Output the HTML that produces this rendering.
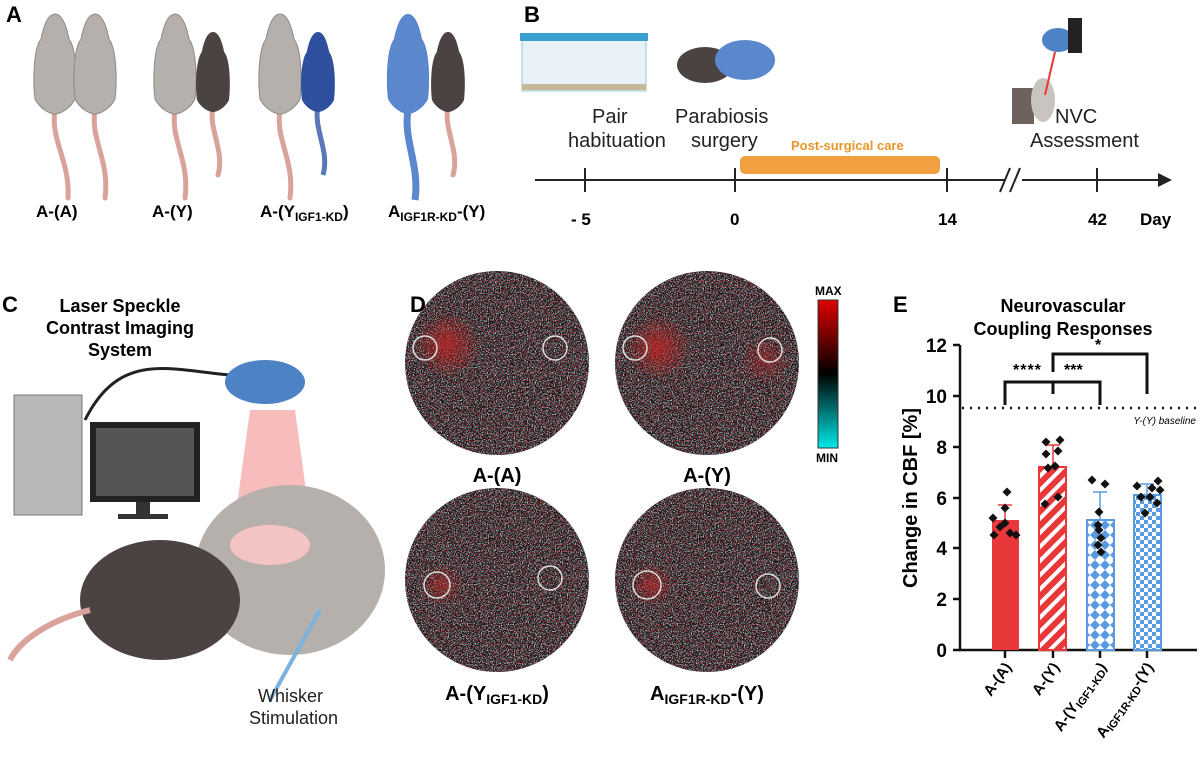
<!DOCTYPE html>
<html><head><meta charset="utf-8"><style>
body{margin:0;background:#fff;}
svg{display:block;font-family:"Liberation Sans",Arial,sans-serif;}
</style></head><body>
<svg width="1200" height="759" viewBox="0 0 1200 759" xmlns="http://www.w3.org/2000/svg">
<defs>
<path id="mb" d="M0,0 C-8,0 -12,15 -14,25 C-22,35 -22,70 -20,85 C-15,95 -5,100 0,100 C5,100 15,95 20,85 C22,70 22,35 14,25 C12,15 8,0 0,0Z"/>
<path id="dm" d="M0,-4.5 L4.5,0 0,4.5 -4.5,0Z"/>
<filter id="nr" x="0" y="0" width="100%" height="100%">
<feTurbulence type="fractalNoise" baseFrequency="0.85" numOctaves="1" seed="2"/>
<feColorMatrix type="matrix" values="0 0 0 0 0.8  0 0 0 0 0.08  0 0 0 0 0.1  5 0 0 0 -2.5"/>
</filter>
<filter id="nc" x="0" y="0" width="100%" height="100%">
<feTurbulence type="fractalNoise" baseFrequency="0.85" numOctaves="1" seed="9"/>
<feColorMatrix type="matrix" values="0 0 0 0 0.25  0 0 0 0 0.8  0 0 0 0 0.8  5 0 0 0 -2.6"/>
</filter>
<radialGradient id="rb"><stop offset="0" stop-color="#c02020" stop-opacity="0.8"/><stop offset="1" stop-color="#c02020" stop-opacity="0"/></radialGradient>
<clipPath id="cc"><circle cx="92" cy="92" r="92"/></clipPath>
<g id="disc" clip-path="url(#cc)">
<rect width="184" height="184" fill="#1c1517"/>
<rect width="184" height="184" filter="url(#nr)"/>
<rect width="184" height="184" filter="url(#nc)"/>
</g>
<pattern id="stripe" width="10" height="10" patternUnits="userSpaceOnUse" patternTransform="rotate(45)"><rect width="10" height="10" fill="#e8383a"/><rect width="4" height="10" fill="#fff"/></pattern>
<pattern id="diam" width="10" height="10" patternUnits="userSpaceOnUse"><rect width="10" height="10" fill="#fff"/><path d="M5,0 L10,5 5,10 0,5Z" fill="#5a9ae0"/></pattern>
<pattern id="chk" width="8" height="8" patternUnits="userSpaceOnUse"><rect width="8" height="8" fill="#fff"/><rect width="4" height="4" fill="#5a9ae0"/><rect x="4" y="4" width="4" height="4" fill="#5a9ae0"/></pattern>
<linearGradient id="cb" x1="0" y1="0" x2="0" y2="1"><stop offset="0" stop-color="#e00000"/><stop offset="0.5" stop-color="#000"/><stop offset="1" stop-color="#00e8e8"/></linearGradient>
</defs>

<!-- Panel A -->
<text x="6" y="22" font-size="22" font-weight="bold">A</text>
<g fill="none" stroke="#d9a29b" stroke-width="5" stroke-linecap="round">
<path d="M55,110 C50,140 70,160 68,198"/><path d="M95,110 C90,140 110,160 105,198"/>
<path d="M175,110 C170,140 190,160 185,198"/><path d="M213,105 C208,130 225,150 218,175"/>
<path d="M280,110 C275,140 295,160 290,198"/>
<path d="M448,105 C443,130 460,150 453,175"/>
</g>
<path d="M318,105 C313,130 330,150 323,175" stroke="#5878b8" stroke-width="5" fill="none"/>
<path d="M408,110 C403,140 420,165 415,200" stroke="#5b87cc" stroke-width="7" fill="none"/>
<g fill="#b5b0ab" stroke="#8e8984">
<use href="#mb" transform="translate(55,14)"/><use href="#mb" transform="translate(95,14)"/>
<use href="#mb" transform="translate(175,14)"/><use href="#mb" transform="translate(280,14)"/>
</g>
<g fill="#4a4341"><use href="#mb" transform="translate(213,32) scale(0.8)"/><use href="#mb" transform="translate(448,32) scale(0.8)"/></g>
<use href="#mb" transform="translate(318,32) scale(0.8)" fill="#2e4f9e"/>
<use href="#mb" transform="translate(408,14)" fill="#5b87cc"/>
<g font-size="17" font-weight="bold">
<text x="36" y="217">A-(A)</text><text x="152" y="217">A-(Y)</text>
<text x="260" y="217">A-(Y<tspan font-size="12" dy="4">IGF1-KD</tspan><tspan dy="-4">)</tspan></text>
<text x="388" y="217">A<tspan font-size="12" dy="4">IGF1R-KD</tspan><tspan dy="-4">-(Y)</tspan></text>
</g>

<!-- Panel B -->
<text x="524" y="22" font-size="22" font-weight="bold">B</text>
<rect x="522" y="36" width="124" height="55" fill="#e8f1f5" stroke="#9cc" />
<rect x="520" y="33" width="128" height="8" fill="#3aa0d0"/>
<rect x="522" y="84" width="124" height="6" fill="#c8b89a"/>
<ellipse cx="705" cy="65" rx="28" ry="18" fill="#4a4341"/><ellipse cx="745" cy="60" rx="30" ry="20" fill="#5b87cc"/>
<g font-size="20" fill="#222">
<text x="592" y="123">Pair</text><text x="568" y="147">habituation</text>
<text x="675" y="123">Parabiosis</text><text x="691" y="147">surgery</text>
<text x="1055" y="123">NVC</text><text x="1030" y="147">Assessment</text>
</g>
<rect x="1012" y="88" width="22" height="36" fill="#6d625d"/>
<ellipse cx="1043" cy="100" rx="12" ry="22" fill="#c9c4bf"/>
<ellipse cx="1058" cy="40" rx="16" ry="12" fill="#4d82c4"/><rect x="1068" y="18" width="14" height="35" fill="#222"/>
<line x1="1055" y1="52" x2="1045" y2="95" stroke="#e33" stroke-width="2"/>
<rect x="740" y="156" width="200" height="18" rx="5" fill="#f0a040"/>
<text x="791" y="150" font-size="13" font-weight="bold" fill="#e8962a">Post-surgical care</text>
<g stroke="#222" stroke-width="2">
<line x1="535" y1="180" x2="1005" y2="180"/><line x1="1022" y1="180" x2="1160" y2="180"/>
<line x1="585" y1="168" x2="585" y2="192"/><line x1="735" y1="168" x2="735" y2="192"/>
<line x1="947" y1="168" x2="947" y2="192"/><line x1="1097" y1="168" x2="1097" y2="192"/>
<line x1="1000" y1="192" x2="1010" y2="168"/><line x1="1010" y1="192" x2="1020" y2="168"/>
</g>
<path d="M1158,173 L1172,180 1158,187Z" fill="#222"/>
<g font-size="17" font-weight="bold">
<text x="571" y="225">- 5</text><text x="730" y="225">0</text><text x="938" y="225">14</text><text x="1088" y="225">42</text><text x="1140" y="225">Day</text>
</g>

<!-- Panel C -->
<text x="2" y="312" font-size="22" font-weight="bold">C</text>
<g font-size="18" font-weight="bold" text-anchor="middle">
<text x="120" y="312">Laser Speckle</text><text x="120" y="334">Contrast Imaging</text><text x="120" y="356">System</text>
</g>
<rect x="14" y="395" width="68" height="120" fill="#b8b8b8" stroke="#777"/>
<rect x="90" y="422" width="110" height="80" fill="#222"/><rect x="96" y="428" width="98" height="68" fill="#555"/>
<rect x="136" y="502" width="14" height="14" fill="#333"/><rect x="118" y="514" width="50" height="5" fill="#333"/>
<path d="M85,420 C120,350 170,370 230,375" stroke="#222" stroke-width="3" fill="none"/>
<ellipse cx="265" cy="382" rx="40" ry="22" fill="#4d82c4"/>
<path d="M250,410 L295,410 310,520 235,520Z" fill="#f4a0a0" opacity="0.7"/>
<ellipse cx="290" cy="570" rx="95" ry="85" fill="#b5b0ab"/>
<ellipse cx="270" cy="545" rx="40" ry="20" fill="#f4c4c4"/>
<ellipse cx="160" cy="600" rx="80" ry="60" fill="#4a4341"/>
<path d="M90,610 C50,620 20,640 10,660" stroke="#d9a29b" stroke-width="6" fill="none"/>
<line x1="270" y1="700" x2="320" y2="610" stroke="#7bb3e0" stroke-width="4"/>
<text x="258" y="702" font-size="18" fill="#222">Whisker</text><text x="249" y="724" font-size="18" fill="#222">Stimulation</text>

<!-- Panel D -->
<use href="#disc" x="405" y="271"/>
<use href="#disc" x="615" y="271"/>
<use href="#disc" x="405" y="488"/>
<use href="#disc" x="615" y="488"/>
<circle cx="447" cy="345" r="33" fill="url(#rb)"/>
<circle cx="658" cy="348" r="33" fill="url(#rb)"/>
<circle cx="765" cy="360" r="25" fill="url(#rb)" opacity="0.6"/>
<circle cx="442" cy="585" r="22" fill="url(#rb)" opacity="0.7"/>
<circle cx="652" cy="585" r="22" fill="url(#rb)" opacity="0.8"/>
<text x="410" y="312" font-size="22" font-weight="bold">D</text>
<g fill="none" stroke="#ddd" stroke-width="1.5">
<circle cx="425" cy="348" r="12"/><circle cx="555" cy="348" r="12"/>
<circle cx="635" cy="348" r="12"/><circle cx="770" cy="350" r="12"/>
<circle cx="437" cy="585" r="13"/><circle cx="550" cy="578" r="12"/>
<circle cx="647" cy="585" r="14"/><circle cx="768" cy="586" r="12"/>
</g>
<g font-size="20" font-weight="bold" text-anchor="middle">
<text x="497" y="482">A-(A)</text><text x="707" y="482">A-(Y)</text>
<text x="497" y="700">A-(Y<tspan font-size="14" dy="4">IGF1-KD</tspan><tspan dy="-4">)</tspan></text>
<text x="707" y="700">A<tspan font-size="14" dy="4">IGF1R-KD</tspan><tspan dy="-4">-(Y)</tspan></text>
</g>
<text x="815" y="295" font-size="12" font-weight="bold">MAX</text>
<rect x="818" y="300" width="20" height="148" fill="url(#cb)" stroke="#333"/>
<text x="816" y="462" font-size="12" font-weight="bold">MIN</text>

<!-- Panel E -->
<text x="893" y="312" font-size="22" font-weight="bold">E</text>
<g font-size="18" font-weight="bold" text-anchor="middle">
<text x="1063" y="312">Neurovascular</text><text x="1063" y="335">Coupling Responses</text>
</g>
<text transform="translate(917,498) rotate(-90)" font-size="20" font-weight="bold" text-anchor="middle">Change in CBF [%]</text>
<g stroke="#111" stroke-width="2.5">
<line x1="960" y1="345" x2="960" y2="651"/><line x1="959" y1="650" x2="1197" y2="650"/>
<line x1="953" y1="345" x2="960" y2="345"/><line x1="953" y1="396" x2="960" y2="396"/><line x1="953" y1="447" x2="960" y2="447"/><line x1="953" y1="498" x2="960" y2="498"/><line x1="953" y1="548" x2="960" y2="548"/><line x1="953" y1="599" x2="960" y2="599"/><line x1="953" y1="650" x2="960" y2="650"/>
<line x1="1005" y1="650" x2="1005" y2="658"/><line x1="1053" y1="650" x2="1053" y2="658"/><line x1="1100" y1="650" x2="1100" y2="658"/><line x1="1147" y1="650" x2="1147" y2="658"/>
</g>
<g font-size="19" font-weight="bold" text-anchor="end">
<text x="947" y="352">12</text><text x="947" y="403">10</text><text x="947" y="454">8</text><text x="947" y="505">6</text><text x="947" y="555">4</text><text x="947" y="606">2</text><text x="947" y="657">0</text>
</g>
<line x1="962" y1="408" x2="1197" y2="408" stroke="#111" stroke-width="2.5" stroke-dasharray="2,6"/>
<text x="1196" y="424" font-size="10" font-style="italic" text-anchor="end">Y-(Y) baseline</text>
<rect x="992" y="520" width="27" height="130" fill="#e8383a"/>
<rect x="1039" y="467" width="27" height="183" fill="url(#stripe)" stroke="#e8383a" stroke-width="2"/>
<rect x="1087" y="520" width="27" height="130" fill="url(#diam)" stroke="#5a9ae0" stroke-width="2"/>
<rect x="1134" y="495" width="27" height="155" fill="url(#chk)" stroke="#5a9ae0" stroke-width="2"/>
<g stroke="#e8383a" stroke-width="1.5"><line x1="1005" y1="520" x2="1005" y2="505"/><line x1="998" y1="505" x2="1012" y2="505"/><line x1="1053" y1="467" x2="1053" y2="445"/><line x1="1046" y1="445" x2="1060" y2="445"/></g>
<g stroke="#5a9ae0" stroke-width="1.5"><line x1="1100" y1="520" x2="1100" y2="492"/><line x1="1093" y1="492" x2="1107" y2="492"/><line x1="1147" y1="495" x2="1147" y2="484"/><line x1="1140" y1="484" x2="1154" y2="484"/></g>
<g fill="#111">
<use href="#dm" x="1007" y="492"/><use href="#dm" x="1005" y="508"/><use href="#dm" x="993" y="518"/><use href="#dm" x="1000" y="527"/><use href="#dm" x="1005" y="523"/><use href="#dm" x="994" y="535"/><use href="#dm" x="1010" y="533"/><use href="#dm" x="1016" y="535"/>
<use href="#dm" x="1046" y="442"/><use href="#dm" x="1060" y="440"/><use href="#dm" x="1046" y="454"/><use href="#dm" x="1058" y="451"/><use href="#dm" x="1055" y="466"/><use href="#dm" x="1048" y="468"/><use href="#dm" x="1058" y="497"/><use href="#dm" x="1045" y="504"/>
<use href="#dm" x="1092" y="480"/><use href="#dm" x="1105" y="484"/><use href="#dm" x="1099" y="512"/><use href="#dm" x="1098" y="525"/><use href="#dm" x="1101" y="538"/><use href="#dm" x="1098" y="545"/><use href="#dm" x="1101" y="552"/><use href="#dm" x="1099" y="530"/>
<use href="#dm" x="1137" y="486"/><use href="#dm" x="1152" y="488"/><use href="#dm" x="1158" y="481"/><use href="#dm" x="1160" y="490"/><use href="#dm" x="1141" y="497"/><use href="#dm" x="1150" y="497"/><use href="#dm" x="1157" y="503"/><use href="#dm" x="1145" y="513"/>
</g>
<g stroke="#111" stroke-width="3" fill="none">
<path d="M1005,405 V382 H1100 V405"/><line x1="1053" y1="382" x2="1053" y2="394"/>
<path d="M1053,372 V354 H1147 V394"/>
</g>
<g font-size="16" font-weight="bold">
<text x="1013" y="375" letter-spacing="1">****</text><text x="1064" y="375">***</text><text x="1095" y="350">*</text>
</g>
<g font-size="15" font-weight="bold" text-anchor="end">
<text transform="translate(1012,667) rotate(-55)">A-(A)</text>
<text transform="translate(1060,667) rotate(-55)">A-(Y)</text>
<text transform="translate(1107,667) rotate(-55)">A-(Y<tspan font-size="11" dy="3">IGF1-KD</tspan><tspan dy="-3">)</tspan></text>
<text transform="translate(1154,667) rotate(-55)">A<tspan font-size="11" dy="3">IGF1R-KD</tspan><tspan dy="-3">-(Y)</tspan></text>
</g>
</svg>
</body></html>
